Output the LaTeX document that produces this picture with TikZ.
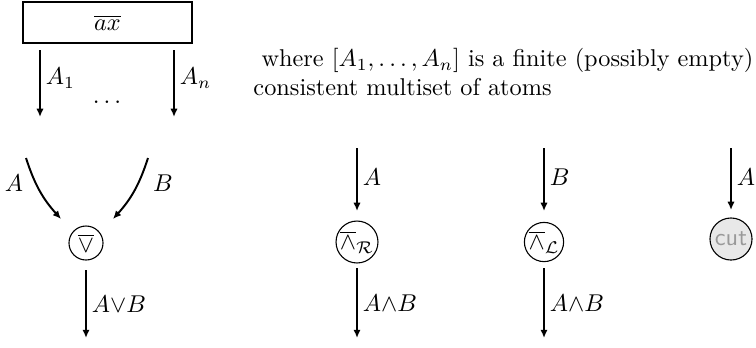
\documentclass[tikz,border=0pt]{standalone}
\usetikzlibrary{arrows.meta}
\begin{document}
\begin{tikzpicture}[x=0.4115pt,y=-0.4115pt,
  arr/.style={line width=0.8pt,-{Latex[length=3.4pt,width=3pt]}},
  rulebox/.style={draw,line width=0.8pt,minimum width=69.5pt,minimum height=16.9pt,inner sep=0pt},
  circ/.style={draw,circle,line width=0.45pt,inner sep=0.2pt,minimum size=14pt},
  cutc/.style={circ,minimum size=17.3pt,fill=black!9,text=black!40,font=\sffamily},
  lbl/.style={right,inner sep=2pt}]
\useasboundingbox (0,0) rectangle (756,347);
% axiom
\node[rulebox] (ax) at (107.5,22.5) {$\overline{ax}$};
\coordinate (a1s) at (40,50); \coordinate (a1e) at (40,117);
\coordinate (ans) at (174,50); \coordinate (ane) at (174,117);
\draw[arr] (a1s) -- node[lbl,pos=0.42]{$A_1$} (a1e);
\draw[arr] (ans) -- node[lbl,pos=0.42]{$A_n$} (ane);
\node (dots) at (107,102) {$\dots$};
\node[anchor=west,align=left,inner sep=0pt] (txt) at (253,72)
  {\ where $[A_1,\ldots,A_n]$ is a finite (possibly empty)\\consistent multiset of atoms};
% or
\node[circ] (or) at (86,243) {$\overline{\vee}$};
\coordinate (as) at (26,158); \coordinate (ae) at (61,219);
\coordinate (bs) at (148,158); \coordinate (be) at (113,219);
\draw[arr] (as) to[out=-72,in=132] (ae);
\draw[arr] (bs) to[out=-108,in=48] (be);
\node (la) at (14,183) {$A$};
\node (lb) at (163,183) {$B$};
\coordinate (ors) at (86,270); \coordinate (ore) at (86,338);
\draw[arr] (ors) -- node[lbl,pos=0.5]{$A{\vee}B$} (ore);
% and R
\node[circ] (andr) at (357,242) {$\overline{\wedge}_{\mathcal{R}}$};
\coordinate (rs) at (357,148); \coordinate (re) at (357,211);
\draw[arr] (rs) -- node[lbl,pos=0.47]{$A$} (re);
\coordinate (ros) at (357,268); \coordinate (roe) at (357,338);
\draw[arr] (ros) -- node[lbl,pos=0.5]{$A{\wedge}B$} (roe);
% and L
\node[circ] (andl) at (544,242) {$\overline{\wedge}_{\mathcal{L}}$};
\coordinate (ls) at (544,148); \coordinate (le) at (544,211);
\draw[arr] (ls) -- node[lbl,pos=0.47]{$B$} (le);
\coordinate (los) at (544,268); \coordinate (loe) at (544,338);
\draw[arr] (los) -- node[lbl,pos=0.5]{$A{\wedge}B$} (loe);
% cut
\node[cutc] (cut) at (731,239) {cut};
\coordinate (cs) at (731,148); \coordinate (ce) at (731,210);
\draw[arr] (cs) -- node[lbl,pos=0.47]{$A$} (ce);
\end{tikzpicture}
\end{document}
